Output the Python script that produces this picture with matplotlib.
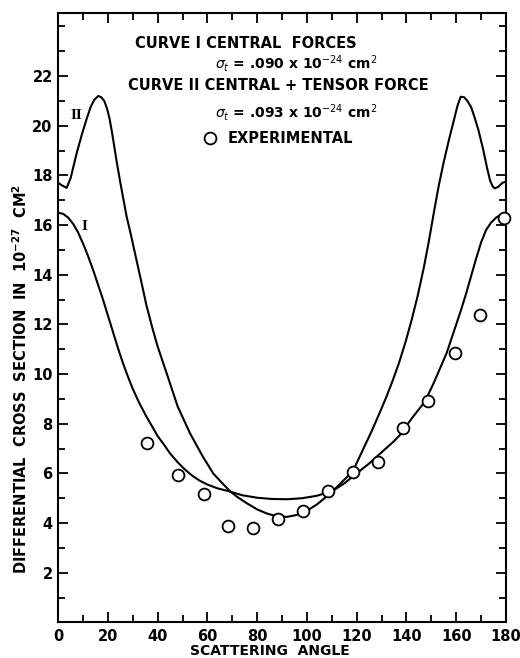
import matplotlib
matplotlib.use('Agg')
import matplotlib.pyplot as plt
from matplotlib.ticker import MultipleLocator

# values
curve1_angle = [0, 2, 4, 6, 8, 10, 12, 14, 16, 18, 20, 22, 24, 26, 28, 30, 32.5,
                35.5, 38, 40, 42.2, 45, 48, 51, 54, 57, 60, 64, 69, 74, 80, 86, 92,
                98, 104, 110.6, 115, 120, 125, 130, 135, 137.4, 142, 147.4, 151, 156.2,
                158, 160, 162, 164, 166, 168, 170, 172, 174, 176, 178, 180]
curve1_sigma = [16.5, 16.45, 16.3, 16.05, 15.7, 15.25, 14.75, 14.2, 13.6, 13.0, 12.35, 11.7,
                11.05, 10.45, 9.9, 9.4, 8.85, 8.28, 7.85, 7.5, 7.2, 6.8, 6.45, 6.15, 5.9,
                5.7, 5.55, 5.4, 5.27, 5.12, 5.02, 4.97, 4.96, 5.0, 5.1, 5.31, 5.6, 6.0, 6.4,
                6.85, 7.3, 7.55, 8.2, 8.89, 9.65, 10.86, 11.4, 12.0, 12.6, 13.25, 13.95,
                14.65, 15.3, 15.8, 16.1, 16.3, 16.42, 16.45]

curve2_angle = [0, 1.5, 3.4, 5, 7.4, 9.5, 11.4, 13, 14.5, 16.1, 17.3, 18.5, 19.6, 20.6,
                21.5, 22.4, 23.5, 24.8, 26, 27.5, 28.9, 31, 33, 35.5, 38, 40, 43.6, 48,
                53, 58, 62.3, 66, 69, 72, 75.8, 80, 84, 88, 92, 96, 100, 104, 108, 110.6,
                114, 118.4, 122, 126, 129.3, 132, 134.5, 137, 139.5, 142, 144.5, 147, 149,
                151, 153, 155, 157, 159, 160.5, 161.8, 163.2, 164.5, 166, 167.5, 169,
                170.9, 172.3, 173.6, 174.7, 175.6, 177, 178.5, 180]
curve2_sigma = [17.7, 17.6, 17.5, 17.9, 18.89, 19.65, 20.27, 20.75, 21.05, 21.2, 21.15, 21.0,
                20.7, 20.3, 19.8, 19.25, 18.55, 17.8, 17.15, 16.34, 15.75, 14.8, 13.9, 12.75,
                11.8, 11.1, 10.03, 8.7, 7.61, 6.7, 6.0, 5.6, 5.29, 5.05, 4.8, 4.55, 4.38,
                4.27, 4.25, 4.33, 4.5, 4.75, 5.08, 5.31, 5.65, 6.08, 6.85, 7.7, 8.46, 9.1,
                9.75, 10.45, 11.25, 12.15, 13.15, 14.3, 15.35, 16.5, 17.6, 18.55, 19.4, 20.2,
                20.8, 21.17, 21.15, 21.0, 20.75, 20.3, 19.8, 19.02, 18.35, 17.8, 17.55,
                17.48, 17.55, 17.7, 17.75]

exp_angle = [35.5, 48.3, 58.5, 68.1, 78.3, 88.2, 98.3, 108.6, 118.4, 128.7, 138.7, 148.7,
             159.5, 169.6, 179.2]
exp_sigma = [7.24, 5.94, 5.16, 3.88, 3.81, 4.15, 4.49, 5.29, 6.04, 6.47, 7.81, 8.91,
             10.86, 12.38, 16.27]

xticks = list(range(0, 181, 20))
yticks = list(range(2, 23, 2))

plt.rcParams['font.family'] = ['DejaVu Sans']
plt.rcParams['mathtext.fontset'] = 'dejavusans'

fig = plt.figure(figsize=(5.2, 6.58), dpi=100)
ax = fig.add_axes([0.112, 0.0541, 0.861, 0.9257])

ax.plot(curve1_angle, curve1_sigma, color='black', lw=1.5, solid_joinstyle='round')
ax.plot(curve2_angle, curve2_sigma, color='black', lw=1.5, solid_joinstyle='round')
ax.plot(exp_angle, exp_sigma, 'o', mfc='white', mec='black', ms=8.5, mew=1.3,
        clip_on=False, zorder=5)

ax.set_xlim(0, 180)
ax.set_ylim(0, 24.53)

for s in ax.spines.values():
    s.set_linewidth(1.5)

ax.set_xticks(xticks)
ax.set_xticklabels([str(v) for v in xticks])
ax.xaxis.set_minor_locator(MultipleLocator(10))
ax.set_yticks(yticks)
ax.set_yticklabels([str(v) for v in yticks])
ax.yaxis.set_minor_locator(MultipleLocator(1))

ax.tick_params(axis='both', which='major', direction='in', length=7, width=1.3,
               labelsize=10.5, top=True, right=True)
ax.tick_params(axis='both', which='minor', direction='in', length=5, width=1.3,
               top=True, right=True)
ax.tick_params(axis='x', which='major', pad=5)
ax.tick_params(axis='y', which='major', pad=4)
for lab in ax.get_xticklabels() + ax.get_yticklabels():
    lab.set_fontweight('bold')

ax.set_xlabel('SCATTERING  ANGLE', fontsize=10, fontweight='bold')
ax.xaxis.set_label_coords(0.473, -0.036)
ax.set_ylabel('DIFFERENTIAL  CROSS  SECTION  IN  10$^{\\mathbf{-27}}$  CM$^{\\mathbf{2}}$',
              fontsize=10.5, fontweight='bold')
ax.yaxis.set_label_coords(-0.062, 0.40)

# legend text block at the top
tkw = dict(fontsize=10.5, fontweight='bold', va='center', ha='left')
skw = dict(fontsize=10, fontweight='bold', va='center', ha='left')
ax.text(30.8, 23.32, 'CURVE I CENTRAL  FORCES', **tkw)
ax.text(63.0, 22.5, r'$\sigma_t$ = .090 x 10$^{-24}$ cm$^2$', **skw)
ax.text(28.0, 21.62, 'CURVE II CENTRAL + TENSOR FORCE', **tkw)
ax.text(63.0, 20.55, r'$\sigma_t$ = .093 x 10$^{-24}$ cm$^2$', **skw)
ax.plot([61.0], [19.5], 'o', mfc='white', mec='black', ms=8.5, mew=1.3)
ax.text(68.2, 19.5, 'EXPERIMENTAL', **tkw)

# curve labels
ax.text(7.4, 20.4, 'II', fontsize=11, fontweight='bold', family='Liberation Serif',
        ha='center', va='center')
ax.text(10.7, 15.93, 'I', fontsize=11, fontweight='bold', family='Liberation Serif',
        ha='center', va='center')

fig.savefig('out.png', dpi=100)
